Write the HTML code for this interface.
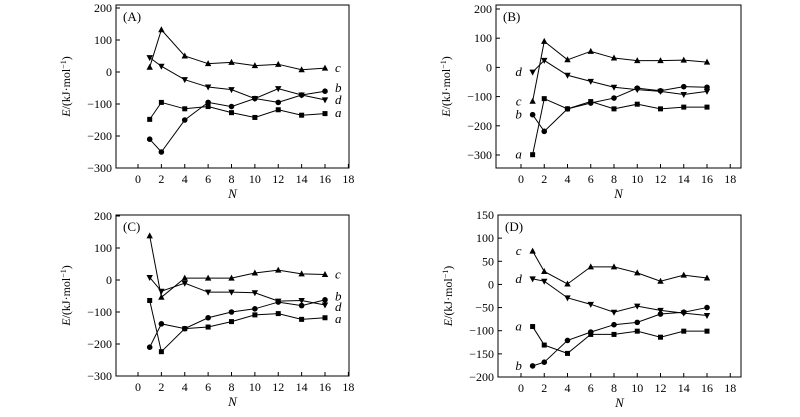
<!DOCTYPE html>
<html><head><meta charset="utf-8"><style>
html,body{margin:0;padding:0;background:#fff;}
svg{display:block;font-family:"Liberation Serif",serif;}
</style></head><body>
<svg id="fig" width="800" height="417" viewBox="0 0 800 417" xmlns="http://www.w3.org/2000/svg"></svg>
<script>
const nValues = [1,2,4,6,8,10,12,14,16];
const xTicks = [0,2,4,6,8,10,12,14,16,18];
// Panel A
const aA = [-148,-95,-115,-108,-127,-142,-118,-135,-130];
const bA = [-210,-250,-150,-95,-108,-83,-95,-72,-60];
const cA = [15,132,50,26,30,20,24,7,12];
const dA = [45,18,-24,-47,-55,-83,-52,-72,-87];
const yTicksA = [200,100,0,-100,-200,-300];
// Panel B
const aB = [-299,-107,-142,-117,-142,-126,-142,-136,-136];
const bB = [-162,-219,-142,-122,-105,-71,-80,-66,-68];
const cB = [-116,89,26,55,32,23,23,25,18];
const dB = [-16,24,-27,-48,-68,-76,-82,-93,-82];
const yTicksB = [200,100,0,-100,-200,-300];
// Panel C
const aC = [-64,-224,-152,-147,-130,-109,-105,-123,-118];
const bC = [-210,-137,-152,-118,-100,-90,-69,-80,-62];
const cC = [138,-54,6,6,6,22,31,19,17];
const dC = [8,-35,-10,-38,-38,-40,-66,-64,-78];
const yTicksC = [200,100,0,-100,-200,-300];
// Panel D
const aD = [-91,-131,-149,-108,-108,-101,-114,-101,-101];
const bD = [-176,-168,-121,-103,-87,-82,-64,-60,-50];
const cD = [72,28,1,38,38,25,7,20,14];
const dD = [12,7,-29,-43,-60,-47,-56,-62,-67];
const yTicksD = [150,100,50,0,-50,-100,-150,-200];

const NS="http://www.w3.org/2000/svg";
const svg=document.getElementById('fig');
function mk(tag,attrs,parent){const e=document.createElementNS(NS,tag);for(const k in attrs)e.setAttribute(k,attrs[k]);(parent||svg).appendChild(e);return e;}

function panel(cfg){
  const g=mk('g',{});
  
  
  const X=v=>cfg.x0+(v-0)*(cfg.x16-cfg.x0)/16;
  const Y=v=>cfg.yTop+(cfg.vTop-v)*(cfg.yBot-cfg.yTop)/(cfg.vTop-cfg.vBot);
  const box=mk('rect',{x:cfg.L,y:cfg.T,width:cfg.R-cfg.L,height:cfg.B-cfg.T,fill:'none',stroke:'#000','stroke-width':1},g);
  
  
  xTicks.forEach(t=>{
    mk('line',{x1:X(t),x2:X(t),y1:cfg.B,y2:cfg.B-4,stroke:'#000'},g);
    const tx=mk('text',{x:X(t),y:cfg.B+15,'font-size':12,'text-anchor':'middle'},g);
    tx.textContent=t;
    
    
  });
  cfg.yTicks.forEach(t=>{
    mk('line',{x1:cfg.L,x2:cfg.L+4,y1:Y(t),y2:Y(t),stroke:'#000'},g);
    const tx=mk('text',{x:cfg.L-4,y:Y(t)+4,'font-size':12,'text-anchor':'end'},g);
    tx.textContent=(t<0?'\u2212'+(-t):t);
    
    
  });
  const xl=mk('text',{x:(cfg.L+cfg.R)/2,y:cfg.B+30,'font-size':13,'font-style':'italic','text-anchor':'middle'},g);
  xl.textContent='N';
  
  
  const yl=mk('text',{x:0,y:0,'font-size':12,'text-anchor':'middle',transform:`translate(${cfg.L-46},${(cfg.T+cfg.B)/2}) rotate(-90)`},g);
  yl.innerHTML='<tspan font-style="italic">E</tspan>/(kJ·mol<tspan dy="-4" font-size="8">−1</tspan><tspan dy="4">)</tspan>';
  
  
  const tl=mk('text',{x:cfg.L+7,y:cfg.T+16,'font-size':13},g);
  tl.textContent='('+cfg.id+')';
  
  
  cfg.series.forEach(s=>{
    const pts=nValues.map((n,i)=>[X(n),Y(s.vals[i])]);
    const pl=mk('polyline',{points:pts.map(p=>p.join(',')).join(' '),fill:'none',stroke:'#000','stroke-width':1},g);
    
    
    pts.forEach(([px,py])=>{
      let m;
      if(s.mark==='sq') m=mk('rect',{x:px-2.5,y:py-2.5,width:5,height:5,fill:'#000'},g);
      else if(s.mark==='ci') m=mk('circle',{cx:px,cy:py,r:2.8,fill:'#000'},g);
      else if(s.mark==='up') m=mk('polygon',{points:`${px},${py-3.5} ${px-3.2},${py+2.5} ${px+3.2},${py+2.5}`,fill:'#000'},g);
      else m=mk('polygon',{points:`${px},${py+3.5} ${px-3.2},${py-2.5} ${px+3.2},${py-2.5}`,fill:'#000'},g);
      
      
    });
    const last=s.vals[s.vals.length-1], first=s.vals[0];
    const lx= cfg.labelSide==='right' ? X(16)+10 : X(1)-14;
    const lv= cfg.labelSide==='right' ? (s.lab!==undefined?s.lab:last) : first;
    const lt=mk('text',{x:lx,y:Y(lv)+4,'font-size':13,'font-style':'italic','text-anchor':cfg.labelSide==='right'?'start':'middle'},g);
    lt.textContent=s.name;
    
    
  });
}

panel({id:'A',L:116,R:349,T:5,B:168,x0:138,x16:325,yTop:8,yBot:168,vTop:200,vBot:-300,yTicks:yTicksA,labelSide:'right',
  series:[{name:'a',vals:aA,mark:'sq',lab:-128},{name:'b',vals:bA,mark:'ci',lab:-50},{name:'c',vals:cA,mark:'up',lab:12},{name:'d',vals:dA,mark:'dn',lab:-87}]});
panel({id:'B',L:496,R:741,T:5,B:168,x0:521,x16:707,yTop:9,yBot:155,vTop:200,vBot:-300,yTicks:yTicksB,labelSide:'left',
  series:[{name:'a',vals:aB,mark:'sq'},{name:'b',vals:bB,mark:'ci'},{name:'c',vals:cB,mark:'up'},{name:'d',vals:dB,mark:'dn'}]});
panel({id:'C',L:116,R:349,T:215,B:376,x0:138,x16:325,yTop:216,yBot:376,vTop:200,vBot:-300,yTicks:yTicksC,labelSide:'right',
  series:[{name:'a',vals:aC,mark:'sq',lab:-122},{name:'b',vals:bC,mark:'ci',lab:-52},{name:'c',vals:cC,mark:'up',lab:17},{name:'d',vals:dC,mark:'dn',lab:-85}]});
panel({id:'D',L:498,R:741,T:215,B:377,x0:521,x16:707,yTop:215,yBot:377,vTop:150,vBot:-200,yTicks:yTicksD,labelSide:'left',
  series:[{name:'a',vals:aD,mark:'sq'},{name:'b',vals:bD,mark:'ci'},{name:'c',vals:cD,mark:'up'},{name:'d',vals:dD,mark:'dn'}]});
</script>
</body></html>
